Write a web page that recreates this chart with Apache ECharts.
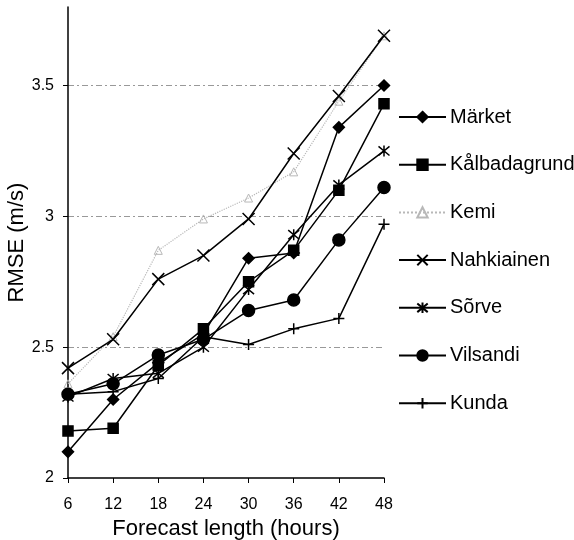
<!DOCTYPE html>
<html>
<head>
<meta charset="utf-8">
<script src="https://cdn.jsdelivr.net/npm/echarts@6/dist/echarts.min.js"></script>
<style>
html,body{margin:0;padding:0;background:#fff;}
#chart{width:574px;height:540px;}
</style>
</head>
<body>
<div id="chart"></div>
<script>
var hours = [6, 12, 18, 24, 30, 36, 42, 48];
var yTicks = [2, 2.5, 3, 3.5];
var seriesNames = ['Märket', 'Kålbadagrund', 'Kemi', 'Nahkiainen', 'Sõrve', 'Vilsandi', 'Kunda'];
var marketVals = [2.10, 2.30, 2.44, 2.55, 2.84, 2.86, 3.34, 3.50];
var kalbadagrundVals = [2.18, 2.19, 2.43, 2.57, 2.75, 2.87, 3.10, 3.43];
var kemiVals = [2.36, 2.54, 2.87, 2.99, 3.07, 3.17, 3.44, 3.69];
var nahkiainenVals = [2.42, 2.53, 2.76, 2.85, 2.99, 3.24, 3.46, 3.69];
var sorveVals = [2.31, 2.38, 2.40, 2.50, 2.72, 2.93, 3.12, 3.25];
var vilsandiVals = [2.32, 2.36, 2.47, 2.53, 2.64, 2.68, 2.91, 3.11];
var kundaVals = [2.32, 2.33, 2.38, 2.54, 2.51, 2.57, 2.61, 2.97];

var allVals = [marketVals, kalbadagrundVals, kemiVals, nahkiainenVals, sorveVals, vilsandiVals, kundaVals];
var symbols = ['diamond', 'rect', 'triangle',
  'path://M0,0L10,10M10,0L0,10',
  'path://M0,0L10,10M10,0L0,10M5,-1L5,11',
  'circle',
  'path://M5,0L5,10M0,5L10,5'];
var sizes = [11, 10, 8, 12, 11, 12, 11];
var FONT = 'Liberation Sans, Arial, sans-serif';

var series = seriesNames.map(function (name, i) {
  var isKemi = i === 2;
  var col = isKemi ? '#b8b8b8' : '#000';
  return {
    name: name,
    type: 'line',
    data: hours.map(function (h, j) { return [h, allVals[i][j]]; }),
    symbol: symbols[i],
    symbolSize: sizes[i],
    showAllSymbol: true,
    lineStyle: { color: col, width: isKemi ? 1.2 : 1.5, type: isKemi ? 'dotted' : 'solid' },
    itemStyle: { color: isKemi ? 'rgba(0,0,0,0)' : col, borderColor: col, borderWidth: isKemi ? 1 : 1.5 },
    emphasis: { disabled: true },
    animation: false,
    z: isKemi ? 1 : 2
  };
});

var chart = echarts.init(document.getElementById('chart'));
chart.setOption({
  backgroundColor: '#fff',
  animation: false,
  grid: { left: 68, right: 190, top: 7, bottom: 62, containLabel: false, outerBoundsMode: 'none' },
  legend: {
    data: seriesNames,
    orient: 'vertical',
    left: 398,
    top: 107,
    padding: 0,
    itemWidth: 47,
    itemHeight: 13,
    itemGap: 27.7,
    textStyle: { fontFamily: FONT, fontSize: 20, color: '#000', padding: [0, 0, 0, -1] }
  },
  xAxis: {
    type: 'value',
    min: 6, max: 48, interval: 6,
    name: 'Forecast length (hours)',
    nameLocation: 'middle',
    nameGap: 40,
    nameMoveOverlap: false,
    nameTextStyle: { fontFamily: FONT, fontSize: 22, color: '#000' },
    axisLine: { onZero: false, lineStyle: { color: '#000', width: 1.5 } },
    axisTick: { show: true, length: 5, lineStyle: { color: '#000' } },
    axisLabel: { fontFamily: FONT, fontSize: 16, color: '#000', margin: 19 },
    splitLine: { show: false }
  },
  yAxis: {
    type: 'value',
    min: yTicks[0], max: 3.8, interval: 0.5,
    name: 'RMSE (m/s)',
    nameLocation: 'middle',
    nameGap: 40,
    nameMoveOverlap: false,
    nameTextStyle: { fontFamily: FONT, fontSize: 22, color: '#000' },
    axisLine: { show: true, onZero: false, lineStyle: { color: '#000', width: 1.5 } },
    axisTick: { show: true, length: 5, lineStyle: { color: '#000' } },
    axisLabel: {
      fontFamily: FONT, fontSize: 16, color: '#000', margin: 14,
      showMaxLabel: false,
      formatter: function (v) { return yTicks.indexOf(Math.round(v * 100) / 100) >= 0 ? String(v) : ''; }
    },
    splitLine: { show: true, showMinLine: false, showMaxLine: false, lineStyle: { color: '#999', width: 1, type: [6, 3, 2, 3] } }
  },
  series: series
});
</script>
</body>
</html>
